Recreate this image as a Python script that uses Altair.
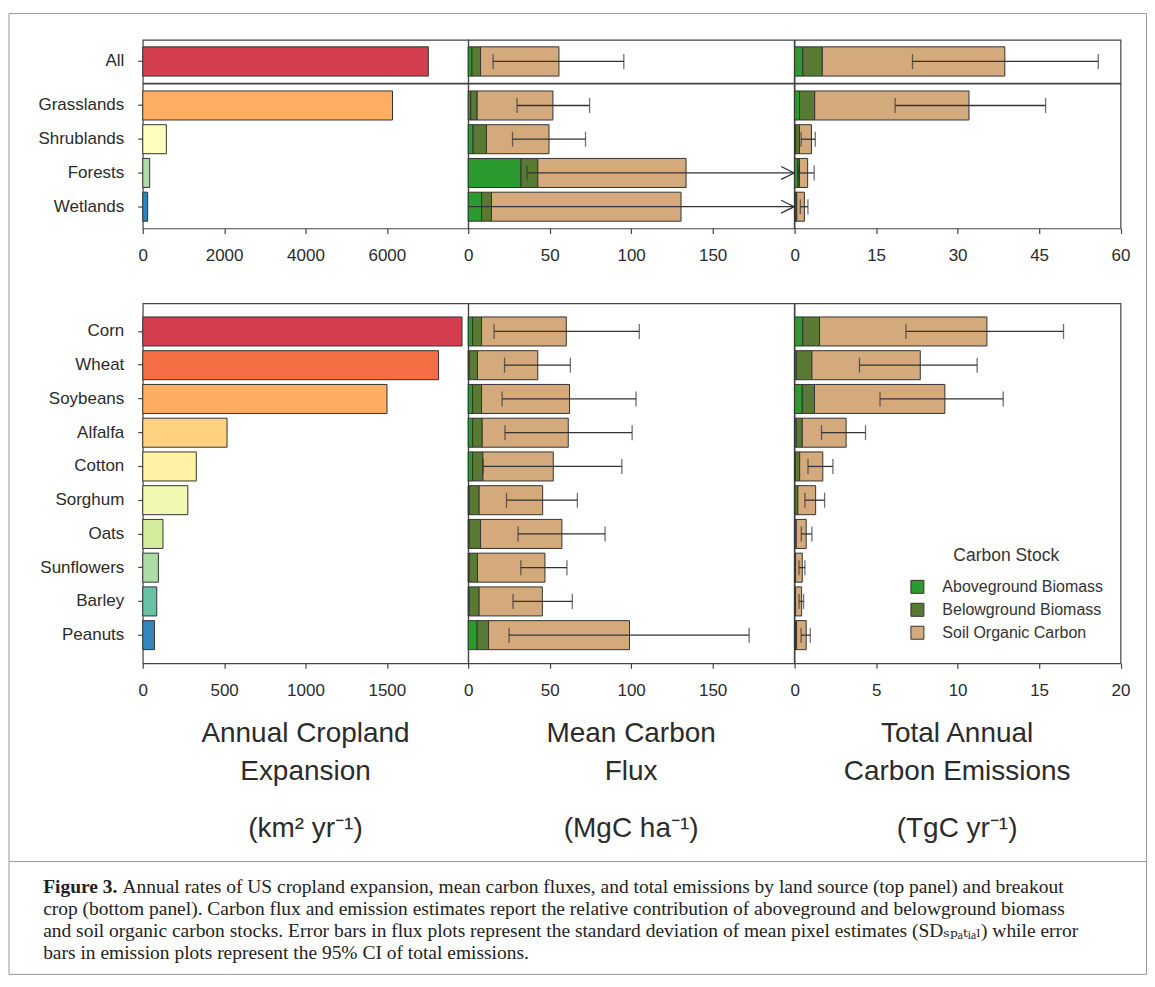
import altair as alt
import pandas as pd

# ---------------- data ----------------
land = ["All", "Grasslands", "Shrublands", "Forests", "Wetlands"]
land_colors = ["#d53e4f", "#fdae61", "#ffffbf", "#abdda4", "#2b83ba"]
land_expansion = [7020, 6140, 580, 170, 120]
land_flux_agb = [2.3, 1.6, 3.0, 32.4, 8.2]
land_flux_bgb = [5.3, 3.9, 8.2, 10.3, 6.1]
land_flux_soc = [48.1, 46.5, 38.4, 91.0, 116.3]
land_flux_lo = [15.3, 30.0, 27.2, 36.1, -9.0]
land_flux_hi = [95.5, 74.5, 72.0, 231.3, 270.0]
land_emis_agb = [1.5, 0.9, 0.2, 0.6, 0.2]
land_emis_bgb = [3.6, 2.8, 0.7, 0.3, 0.2]
land_emis_soc = [33.6, 28.4, 2.2, 1.5, 1.4]
land_emis_lo = [21.7, 18.5, 1.2, 0.7, 1.05]
land_emis_hi = [55.9, 46.2, 3.8, 3.6, 2.45]

crops = ["Corn", "Wheat", "Soybeans", "Alfalfa", "Cotton", "Sorghum", "Oats",
         "Sunflowers", "Barley", "Peanuts"]
crop_colors = ["#d53e4f", "#f46d43", "#fdae61", "#fed27f", "#fff2a4", "#f1f9b1",
               "#d3ed9c", "#abdda4", "#66c2a5", "#3288bd"]
crop_expansion = [1962, 1818, 1501, 518, 329, 277, 124, 96, 86, 72]
crop_flux_agb = [2.7, 0.6, 2.7, 2.7, 2.7, 0.6, 0.6, 0.6, 0.6, 5.5]
crop_flux_bgb = [5.5, 5.1, 5.5, 5.9, 6.3, 6.1, 7.0, 5.1, 6.1, 7.0]
crop_flux_soc = [52.0, 37.0, 54.0, 52.8, 43.2, 39.0, 49.9, 41.4, 38.8, 86.5]
crop_flux_lo = [15.9, 22.3, 20.8, 22.6, 9.2, 23.5, 30.6, 32.3, 27.5, 25.1]
crop_flux_hi = [105.0, 62.7, 103.0, 100.6, 94.3, 67.0, 84.0, 60.6, 63.9, 172.4]
crop_emis_agb = [0.5, 0.1, 0.47, 0.1, 0.05, 0.02, 0.02, 0.01, 0.01, 0.05]
crop_emis_bgb = [1.03, 0.96, 0.75, 0.37, 0.26, 0.18, 0.08, 0.05, 0.05, 0.07]
crop_emis_soc = [10.27, 6.65, 8.0, 2.69, 1.42, 1.09, 0.61, 0.41, 0.37, 0.59]
crop_emis_lo = [6.83, 3.98, 5.24, 1.65, 0.82, 0.63, 0.41, 0.27, 0.27, 0.40]
crop_emis_hi = [16.5, 11.2, 12.8, 4.35, 2.35, 1.84, 1.06, 0.63, 0.55, 0.96]

stocks = ["Aboveground Biomass", "Belowground Biomass", "Soil Organic Carbon"]
stock_colors = ["#2b9a2f", "#587a33", "#d4aa7d"]

panel_titles = [
    ["Annual Cropland", "Expansion", "(km\u00b2 yr\u207b\u00b9)"],
    ["Mean Carbon", "Flux", "(MgC ha\u207b\u00b9)"],
    ["Total Annual", "Carbon Emissions", "(TgC yr\u207b\u00b9)"],
]

caption_bold = "Figure 3."
caption_lines = [
    "Annual rates of US cropland expansion, mean carbon fluxes, and total emissions by land source (top panel) and breakout",
    "crop (bottom panel). Carbon flux and emission estimates report the relative contribution of aboveground and belowground biomass",
    "and soil organic carbon stocks. Error bars in flux plots represent the standard deviation of mean pixel estimates (SD\u209b\u209a\u2090\u209c\u1d62\u2090\u2097) while error",
    "bars in emission plots represent the 95% CI of total emissions.",
]

# ---------------- styling ----------------
FONT = "Liberation Sans, Arial, sans-serif"
SERIF = "Liberation Serif, DejaVu Serif, serif"
INK = "#333333"
W = [326, 326.5, 326.5]
H_ALL, H_REST, H_GAP, H_BOT = 43.4, 145, 75, 360.6
CAP = 19.5

legend = alt.Legend(
    title="Carbon Stock", orient="none", legendX=768, legendY=508, padding=0,
    titleFont=FONT, titleFontSize=17.5, titleFontWeight="normal", titleColor=INK,
    titleAnchor="middle", titlePadding=14.5,
    labelFont=FONT, labelFontSize=16, labelColor=INK, labelOffset=17, labelLimit=300,
    symbolType="square", symbolSize=169, symbolStrokeColor=INK, symbolStrokeWidth=1,
    rowPadding=5,
)
color_stock = alt.Color("stock:N", scale=alt.Scale(domain=stocks, range=stock_colors), legend=legend)


def stack_df(cats, agb, bgb, soc):
    rows = []
    for i, c in enumerate(cats):
        for k, (s, v) in enumerate(zip(stocks, (agb[i], bgb[i], soc[i]))):
            rows.append({"cat": c, "stock": s, "ord": k, "val": v})
    return pd.DataFrame(rows)


def yenc(cats, pi, po, show):
    scale = alt.Scale(domain=cats, paddingInner=pi, paddingOuter=po)
    if show:
        return alt.Y("cat:N", sort=cats, scale=scale,
                     axis=alt.Axis(title=None, ticks=True, tickSize=5, labelPadding=14,
                                   domain=False))
    return alt.Y("cat:N", sort=cats, scale=scale, axis=None)


def xaxis(values):
    if values is None:
        return None
    return alt.Axis(values=values, format="d", title=None, tickSize=5, labelPadding=14,
                    labelFlush=False, labelOverlap=False, domain=False)


def left_panel(cats, vals, cols, domain, values, width, height, pi, po):
    df = pd.DataFrame({"cat": cats, "val": vals, "col": cols})
    return alt.Chart(df).mark_bar(stroke=INK, strokeWidth=1).encode(
        x=alt.X("val:Q", scale=alt.Scale(domain=domain, nice=False), axis=xaxis(values)),
        y=yenc(cats, pi, po, True),
        color=alt.Color("col:N", scale=None),
    ).properties(width=width, height=height)


def stack_panel(cats, agb, bgb, soc, lo, hi, domain, values, width, height, pi, po):
    sdf = stack_df(cats, agb, bgb, soc)
    edf = pd.DataFrame({"cat": cats, "lo": lo, "hi": hi})
    xs = alt.Scale(domain=domain, nice=False, clamp=True)
    y = yenc(cats, pi, po, False)
    bars = alt.Chart(sdf).mark_bar(stroke=INK, strokeWidth=1).encode(
        x=alt.X("val:Q", stack="zero", scale=xs, axis=xaxis(values)),
        y=y,
        color=color_stock,
        order=alt.Order("ord:Q"),
    )
    eb = alt.Chart(edf)
    rule = eb.mark_rule(color=INK, strokeWidth=1.3).encode(
        x=alt.X("lo:Q", scale=xs), x2="hi:Q", y=y)
    cap_lo = eb.mark_tick(color=INK, thickness=1.3, size=15).encode(
        x=alt.X("lo:Q", scale=xs), y=y).transform_filter(f"datum.lo >= {domain[0]}")
    cap_hi = eb.mark_tick(color=INK, thickness=1.3, size=15).encode(
        x=alt.X("hi:Q", scale=xs), y=y).transform_filter(f"datum.hi <= {domain[1]}")
    arrow = eb.mark_point(shape="M-2,-1L0,0L-2,1", size=169, filled=False, stroke=INK,
                          strokeWidth=1.3, opacity=1).encode(
        x=alt.X("hi:Q", scale=xs), y=y).transform_filter(f"datum.hi > {domain[1]}")
    return alt.layer(bars, rule, cap_lo, cap_hi, arrow).properties(width=width, height=height)


def pick(a, idx):
    return [a[i] for i in idx]


PI = 0.14
iA = [0]
iR = [1, 2, 3, 4]

one = pd.DataFrame({"a": [0]})
base = alt.Chart(one)
HIDE = alt.ViewBackground(strokeOpacity=0, strokeWidth=0)


def spacer(width, height):
    return base.mark_point(opacity=0).encode(x=alt.value(0), y=alt.value(0)).properties(
        width=width, height=height, view=HIDE)


cells = [
    # row: All
    left_panel(pick(land, iA), pick(land_expansion, iA), pick(land_colors, iA),
               [0, 8000], None, W[0], H_ALL, PI, 0.207),
    stack_panel(pick(land, iA), pick(land_flux_agb, iA), pick(land_flux_bgb, iA),
                pick(land_flux_soc, iA), pick(land_flux_lo, iA), pick(land_flux_hi, iA),
                [0, 200], None, W[1], H_ALL, PI, 0.207),
    stack_panel(pick(land, iA), pick(land_emis_agb, iA), pick(land_emis_bgb, iA),
                pick(land_emis_soc, iA), pick(land_emis_lo, iA), pick(land_emis_hi, iA),
                [0, 60], None, W[2], H_ALL, PI, 0.207),
    # row: land sources
    left_panel(pick(land, iR), pick(land_expansion, iR), pick(land_colors, iR),
               [0, 8000], [0, 2000, 4000, 6000], W[0], H_REST, PI, 0.215),
    stack_panel(pick(land, iR), pick(land_flux_agb, iR), pick(land_flux_bgb, iR),
                pick(land_flux_soc, iR), pick(land_flux_lo, iR), pick(land_flux_hi, iR),
                [0, 200], [0, 50, 100, 150], W[1], H_REST, PI, 0.215),
    stack_panel(pick(land, iR), pick(land_emis_agb, iR), pick(land_emis_bgb, iR),
                pick(land_emis_soc, iR), pick(land_emis_lo, iR), pick(land_emis_hi, iR),
                [0, 60], [0, 15, 30, 45, 60], W[2], H_REST, PI, 0.215),
    # gap row
    spacer(W[0], H_GAP), spacer(W[1], H_GAP), spacer(W[2], H_GAP),
    # row: crops
    left_panel(crops, crop_expansion, crop_colors, [0, 2000], [0, 500, 1000, 1500],
               W[0], H_BOT, PI, 0.404),
    stack_panel(crops, crop_flux_agb, crop_flux_bgb, crop_flux_soc, crop_flux_lo, crop_flux_hi,
                [0, 200], [0, 50, 100, 150], W[1], H_BOT, PI, 0.404),
    stack_panel(crops, crop_emis_agb, crop_emis_bgb, crop_emis_soc, crop_emis_lo, crop_emis_hi,
                [0, 20], [0, 5, 10, 15, 20], W[2], H_BOT, PI, 0.404),
]

# ---- titles, caption, frame (origin = bottom-left corner of the crop panel) ----
frame = base.mark_rect(fillOpacity=0, stroke="#9a9a9a", strokeWidth=1).encode(
    x=alt.value(-134), x2=alt.value(1005.5), y=alt.value(-651.3), y2=alt.value(311.2))
sep = base.mark_rule(color="#9a9a9a", strokeWidth=1).encode(
    x=alt.value(-134), x2=alt.value(1005.5), y=alt.value(198.2))
layers = [frame, sep]

col_centers = [W[0] / 2, W[0] + W[1] / 2, W[0] + W[1] + W[2] / 2]
title_y = [78.2, 116.2, 173.2]
for cx, lines in zip(col_centers, panel_titles):
    for ty, line in zip(title_y, lines):
        layers.append(base.mark_text(align="center", baseline="alphabetic", font=FONT,
                                     fontSize=28, color="#2b2b2b").encode(
            x=alt.value(cx), y=alt.value(ty), text=alt.value(line)))

cap_x = -99.8
cap_y = [230.2, 252.0, 273.7, 295.4]
layers.append(base.mark_text(align="left", baseline="alphabetic", font=SERIF, fontSize=CAP,
                             fontWeight="bold", color="#222").encode(
    x=alt.value(cap_x), y=alt.value(cap_y[0]), text=alt.value(caption_bold)))
for i, line in enumerate(caption_lines):
    dx = 79.5 if i == 0 else 0
    layers.append(
        base.mark_text(align="left", baseline="alphabetic", font=SERIF, fontSize=CAP,
                       color="#222").encode(
            x=alt.value(cap_x + dx), y=alt.value(cap_y[i]), text=alt.value(line)))
caption = alt.layer(*layers).properties(width=W[0], height=1, view=HIDE)
cells += [caption, spacer(W[1], 1), spacer(W[2], 1)]

chart = alt.concat(*cells, columns=3, spacing=0, bounds="flush").properties(
    padding={"left": 0, "top": 4, "right": 0, "bottom": 0}
).configure_view(stroke="#444444", strokeWidth=1.2).configure_axis(
    labelFont=FONT, labelFontSize=17, labelColor="#2b2b2b", tickColor="#444444",
    tickWidth=1.2, grid=False, domain=False,
)

chart.save("out.html", embed_options={"renderer": "svg", "actions": False})
